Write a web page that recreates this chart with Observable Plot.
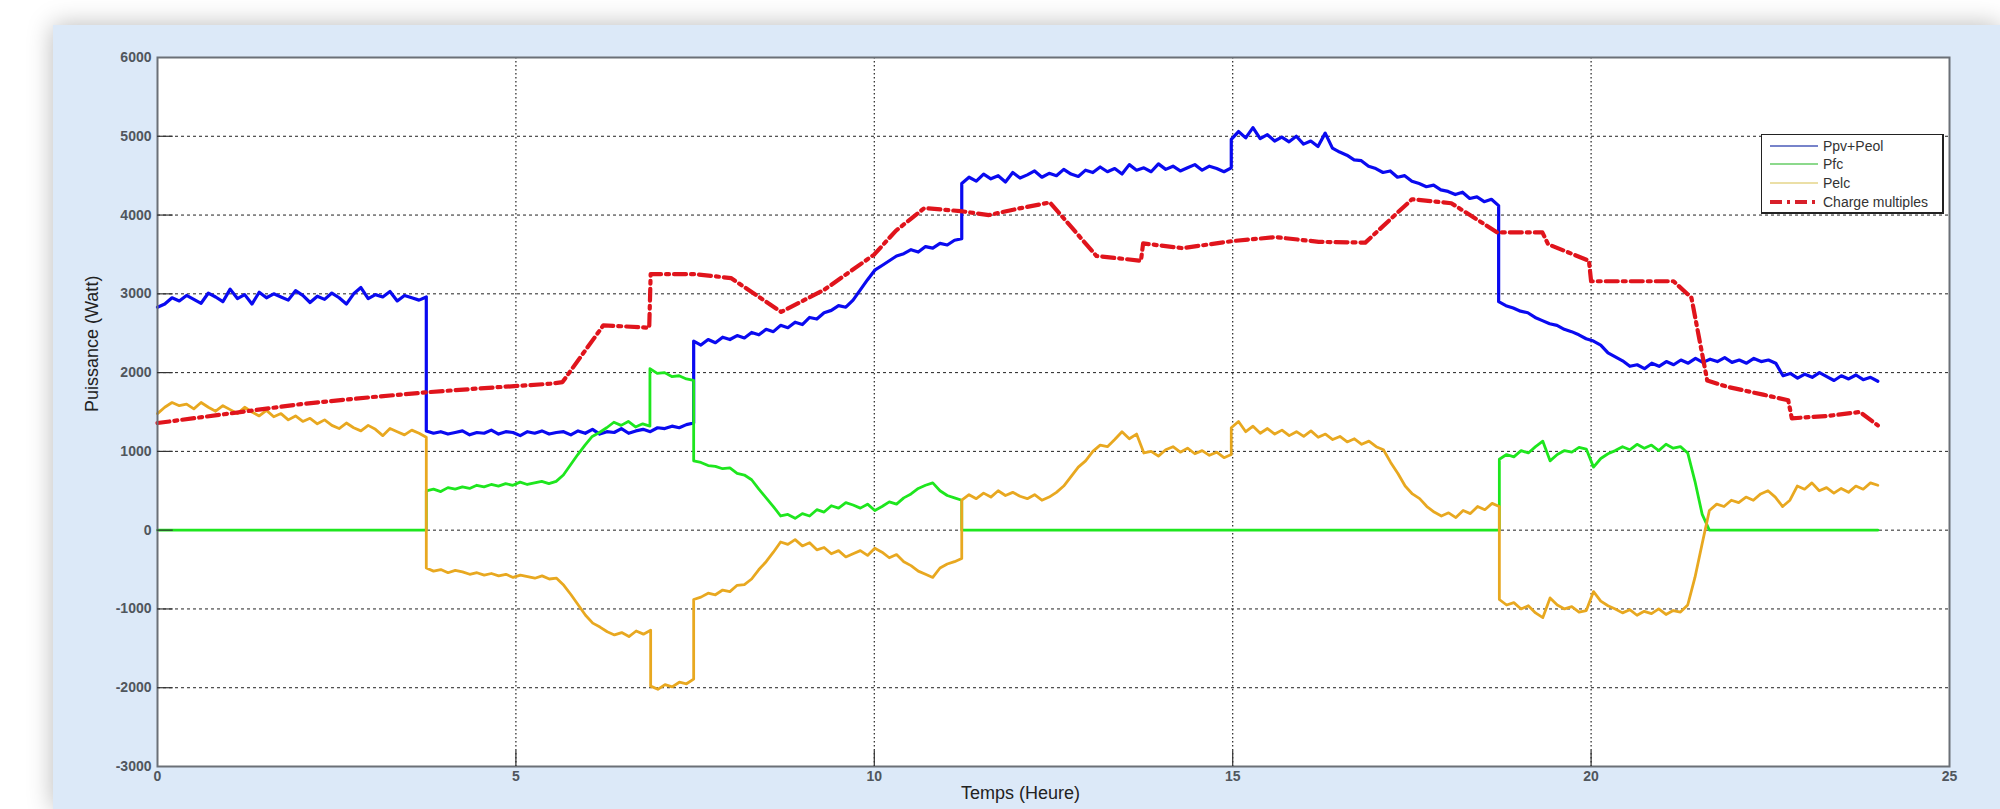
<!DOCTYPE html>
<html>
<head>
<meta charset="utf-8">
<script src="https://cdn.jsdelivr.net/npm/d3@7"></script>
<script src="https://cdn.jsdelivr.net/npm/@observablehq/plot@0.6"></script>
<style>
  html, body { margin: 0; padding: 0; background: #ffffff; width: 2000px; height: 809px; overflow: hidden; }
  #panel { position: absolute; left: 53px; top: 25px; width: 1947px; height: 784px; background: #dce9f8; box-shadow: 0 0 24px rgba(0,0,0,0.28); }
  #chart { position: absolute; left: 0; top: 0; }
  #legend { position: absolute; left: 1761px; top: 134px; width: 180px; height: 77px; background: #fff; border: 1px solid #222; border-right-width: 2px; border-bottom-width: 2px; font-family: "Liberation Sans", Arial, sans-serif; font-size: 14px; color: #333; }
  #legend .row { position: absolute; left: 8px; height: 19px; display: flex; align-items: center; }
  #legend svg { width: 48px; height: 8px; margin-right: 5px; }
</style>
</head>
<body>
<div id="panel"></div>
<div id="chart"></div>
<div id="legend"></div>
<script>
// ---- Data ----
// Each series: segments [tStart, tEnd, values evenly spread over the segment]
const ppvPeol = [
  [0, 3.75, [2830,2870,2950,2910,2980,2930,2880,3010,2960,2900,3060,2940,2990,2870,3020,2950,3000,2960,2920,3040,2980,2890,2970,2930,3010,2950,2870,3000,3080,2940,2990,2960,3030,2910,2980,2950,2920,2960]],
  [3.75, 7.48, [1260,1230,1250,1220,1240,1260,1210,1240,1230,1270,1220,1250,1240,1200,1250,1230,1260,1220,1240,1250,1210,1260,1230,1280,1220,1250,1240,1290,1230,1260,1280,1250,1300,1290,1320,1300,1340,1360]],
  [7.48, 11.22, [2400,2350,2420,2380,2450,2420,2470,2440,2510,2480,2550,2520,2600,2570,2640,2610,2700,2680,2760,2790,2850,2830,2920,3050,3180,3300,3360,3420,3480,3510,3560,3530,3600,3580,3640,3620,3680,3700]],
  [11.22, 14.98, [4400,4480,4430,4520,4460,4500,4420,4540,4470,4510,4560,4480,4530,4500,4580,4520,4490,4570,4540,4610,4550,4590,4520,4640,4570,4600,4550,4650,4580,4620,4560,4600,4640,4570,4620,4590,4550,4600]],
  [14.98, 18.71, [4960,5060,4980,5110,4970,5020,4940,4990,4930,5000,4900,4940,4870,5040,4850,4800,4760,4700,4690,4620,4590,4540,4560,4480,4500,4430,4400,4360,4380,4320,4300,4260,4290,4210,4230,4170,4200,4120]],
  [18.71, 24.0, [2900,2850,2820,2780,2760,2700,2660,2620,2600,2550,2520,2480,2430,2400,2350,2250,2200,2150,2080,2100,2050,2120,2080,2140,2100,2160,2120,2180,2130,2170,2140,2190,2130,2160,2120,2180,2140,2160,2120,1960,1990,1930,1980,1940,2000,1950,1900,1960,1920,1970,1910,1940,1890]]
];
const pfc = [
  [0, 3.75, [0, 0]],
  [3.75, 6.87, [500,520,490,540,520,550,530,570,550,580,560,590,570,610,580,600,620,590,620,700,830,960,1080,1190,1240,1300,1370,1330,1380,1310,1350,1320]],
  [6.87, 7.48, [2050,1990,2000,1950,1960,1920,1900]],
  [7.48, 11.22, [880,860,820,810,780,790,720,700,640,520,410,300,180,200,150,210,180,260,230,310,280,350,320,280,330,250,300,360,330,410,460,530,570,600,500,440,410,380]],
  [11.22, 18.72, [0, 0]],
  [18.72, 21.55, [900,960,930,1010,980,1060,1130,880,960,1010,990,1050,1030,800,910,970,1010,1060,1020,1090,1040,1080,1010,1090,1040,1060,980,620,200]],
  [21.65, 24.0, [0, 0]]
];
const pelc = [
  [0, 3.75, [1480,1560,1620,1580,1600,1540,1620,1560,1510,1580,1530,1480,1560,1500,1450,1520,1440,1480,1400,1450,1380,1420,1350,1400,1330,1290,1360,1300,1260,1330,1280,1200,1290,1250,1210,1270,1230,1180]],
  [3.75, 6.88, [-480,-520,-500,-540,-510,-530,-560,-540,-570,-550,-580,-560,-600,-570,-590,-610,-580,-620,-610,-700,-820,-950,-1080,-1180,-1230,-1290,-1330,-1300,-1350,-1280,-1320,-1270]],
  [6.88, 7.48, [-1980,-2020,-1960,-1990,-1930,-1950,-1890]],
  [7.48, 11.22, [-880,-850,-800,-820,-760,-780,-700,-690,-620,-500,-400,-280,-150,-180,-120,-200,-160,-250,-220,-300,-260,-340,-300,-260,-320,-230,-280,-350,-310,-400,-450,-520,-560,-600,-480,-430,-400,-360]],
  [11.22, 14.98, [380,450,400,470,420,500,440,480,430,400,450,380,420,480,560,680,800,880,1000,1080,1060,1150,1250,1160,1220,980,1000,940,1020,1060,990,1040,970,1010,950,990,920,960]],
  [14.98, 18.72, [1300,1380,1250,1320,1230,1290,1220,1270,1200,1250,1190,1260,1180,1220,1150,1190,1120,1160,1090,1130,1060,1020,860,720,560,460,400,300,230,180,220,160,250,210,300,260,340,300]],
  [18.72, 21.55, [-880,-950,-920,-1000,-960,-1050,-1110,-860,-950,-1000,-970,-1040,-1020,-780,-900,-960,-1000,-1050,-1010,-1080,-1030,-1060,-1000,-1070,-1020,-1040,-950,-600,-170]],
  [21.65, 24.0, [250,330,300,380,350,420,380,460,500,420,300,380,560,520,600,500,540,470,530,480,560,520,600,570]]
];
// Charge multiples: [hour, watt]
const charge = [
  [0,1360],[1,1480],[2,1600],[3,1690],[3.75,1750],[4.5,1800],[5.5,1860],[5.65,1880],[6.22,2600],[6.86,2570],
  [6.88,3250],[7.5,3250],[8.0,3200],[8.7,2770],[9.3,3050],[10.0,3500],[10.3,3800],[10.7,4090],[11.2,4050],[11.6,4000],
  [12.0,4080],[12.45,4160],[13.1,3480],[13.72,3420],[13.75,3640],[14.3,3580],[15.0,3670],[15.6,3720],[16.2,3660],[16.85,3650],
  [17.5,4200],[18.05,4150],[18.69,3780],[19.32,3780],[19.4,3630],[19.97,3420],[20.0,3160],[21.15,3160],[21.4,2950],[21.62,1900],
  [21.9,1820],[22.4,1720],[22.75,1650],[22.8,1420],[23.3,1450],[23.75,1500],[24.0,1330]
];
const seriesNames = ["Ppv+Peol", "Pfc", "Pelc", "Charge multiples"];
const seriesColors = ["#0a0af0", "#1ee61e", "#e8a820", "#e0141c"];
const legendColors = ["#4a5ab8", "#66cc66", "#e4d488", "#d8202a"];
const xTicks = [0, 5, 10, 15, 20, 25];
const yTicks = [-3000, -2000, -1000, 0, 1000, 2000, 3000, 4000, 5000, 6000];
const xGrid = [5, 10, 15, 20];
const yGrid = [-2000, -1000, 0, 1000, 2000, 3000, 4000, 5000];
const xLabel = "Temps (Heure)";
const yLabel = "Puissance (Watt)";

// ---- Build tables ----
function expand(segs) {
  const out = [];
  for (const [t0, t1, vals] of segs) {
    const n = vals.length;
    vals.forEach((v, i) => out.push({t: t0 + (t1 - t0) * i / (n - 1), v}));
  }
  return out;
}
const dPpv = expand(ppvPeol);
const dPfc = expand(pfc);
const dPelc = expand(pelc);
const dCharge = charge.map(([t, v]) => ({t, v}));

const chart = Plot.plot({
  width: 2000,
  height: 809,
  marginLeft: 157,
  marginRight: 51,
  marginTop: 57,
  marginBottom: 43,
  style: {background: "transparent", fontFamily: "'Liberation Sans', Arial, sans-serif", fontSize: "14px", fontWeight: "bold", color: "#50565d"},
  x: {domain: [0, 25]},
  y: {domain: [-3000, 6000]},
  marks: [
    Plot.frame({fill: "white", stroke: "none"}),
    Plot.ruleY(yGrid, {stroke: "#222", strokeDasharray: "3,3", strokeWidth: 1}),
    Plot.ruleX(xGrid, {stroke: "#222", strokeDasharray: "1.5,2.5", strokeWidth: 1.2}),
    Plot.line(dPpv, {x: "t", y: "v", stroke: seriesColors[0], strokeWidth: 3.2, strokeLinejoin: "round"}),
    Plot.line(dPfc, {x: "t", y: "v", stroke: seriesColors[1], strokeWidth: 2.8, strokeLinejoin: "round"}),
    Plot.line(dPelc, {x: "t", y: "v", stroke: seriesColors[2], strokeWidth: 2.8, strokeLinejoin: "round"}),
    Plot.line(dCharge, {x: "t", y: "v", stroke: seriesColors[3], strokeWidth: 4.2, strokeDasharray: "12,5,3,5"}),
    Plot.frame({stroke: "#6b7077", strokeWidth: 2}),
    Plot.ruleY(yTicks.slice(1, -1), {x1: 0, x2: 0.22, stroke: "#333", strokeWidth: 1.2}),
    Plot.ruleX(xTicks.slice(1, -1), {y1: -3000, y2: -2800, stroke: "#333", strokeWidth: 1.2}),
    Plot.axisY(yTicks, {tickSize: 0, tickPadding: 6, fill: "#50565d", label: null, tickFormat: d => String(d)}),
    Plot.axisX(xTicks, {tickSize: 0, tickPadding: 5, fill: "#50565d", label: null, tickFormat: d => String(d)}),
    Plot.text([yLabel], {text: d => d, frameAnchor: "left", dx: -65, rotate: -90, fontSize: 18, fontWeight: "normal", fill: "#222"}),
    Plot.text([xLabel], {text: d => d, frameAnchor: "bottom", dx: -33, dy: 32, fontSize: 18, fontWeight: "normal", fill: "#222"})
  ]
});
document.getElementById("chart").appendChild(chart);

// ---- Legend ----
const legend = document.getElementById("legend");
const rowTops = [1, 19.5, 38, 57];
seriesNames.forEach((name, i) => {
  const row = document.createElement("div");
  row.className = "row";
  row.style.top = rowTops[i] + "px";
  const dash = i === 3 ? 'stroke-dasharray="12,5,3,5" stroke-width="4"' : 'stroke-width="1.6"';
  row.innerHTML = `<svg viewBox="0 0 48 8"><line x1="0" y1="4" x2="48" y2="4" stroke="${legendColors[i]}" ${dash}/></svg><span>${name}</span>`;
  legend.appendChild(row);
});
</script>
</body>
</html>
